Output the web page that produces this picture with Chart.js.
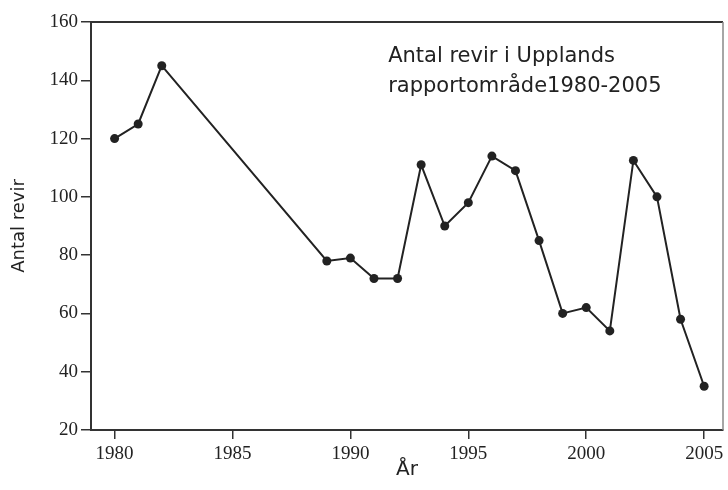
<!DOCTYPE html>
<html>
<head>
<meta charset="utf-8">
<script src="https://cdn.jsdelivr.net/npm/chart.js@4"></script>
<style>
  html, body { margin: 0; padding: 0; background: #fff; }
  #wrap { width: 728px; height: 490px; }
</style>
</head>
<body>
<div id="wrap"><canvas id="revirChart" width="728" height="490"></canvas></div>
<script>
const years = [1980, 1981, 1982, 1989, 1990, 1991, 1992, 1993, 1994, 1995, 1996, 1997, 1998, 1999, 2000, 2001, 2002, 2003, 2004, 2005];
const revir = [120, 125, 145, 78, 79, 72, 72, 111, 90, 98, 114, 109, 85, 60, 62, 54, 112.5, 100, 58, 35];
const noteLines = ["Antal revir i Upplands", "rapportområde1980-2005"];

const ink = "#222";
const serif = "'Liberation Serif', 'DejaVu Serif', serif";
const sans = "'DejaVu Sans', sans-serif";

// ram runt ritytan (topp + höger sida)
const frame = {
  id: "frame",
  afterDraw(chart) {
    const { ctx, chartArea: a } = chart;
    ctx.save();
    ctx.lineWidth = 2;
    ctx.strokeStyle = "#333";
    ctx.beginPath();
    ctx.moveTo(a.left, a.top);
    ctx.lineTo(a.right, a.top);
    ctx.stroke();
    ctx.strokeStyle = "#888";
    ctx.lineWidth = 1.5;
    ctx.beginPath();
    ctx.moveTo(a.right, a.top);
    ctx.lineTo(a.right, a.bottom);
    ctx.stroke();
    ctx.restore();
  }
};

// textruta i diagrammet
const note = {
  id: "note",
  afterDraw(chart) {
    const { ctx, scales } = chart;
    const x = scales.x.getPixelForValue(1991.6);
    const y = scales.y.getPixelForValue(146.3);
    ctx.save();
    ctx.fillStyle = ink;
    ctx.font = "21px " + sans;
    ctx.textBaseline = "alphabetic";
    noteLines.forEach((t, i) => ctx.fillText(t, x, y + i * 30));
    ctx.restore();
  }
};

new Chart(document.getElementById("revirChart"), {
  type: "line",
  data: {
    datasets: [{
      data: years.map((yr, i) => ({ x: yr, y: revir[i] })),
      borderColor: ink,
      backgroundColor: ink,
      borderWidth: 2,
      pointRadius: 4.5,
      pointBackgroundColor: ink,
      pointBorderWidth: 0,
      tension: 0
    }]
  },
  options: {
    responsive: false,
    animation: false,
    layout: { padding: { top: 22, right: 5, left: 0, bottom: 0 } },
    plugins: { legend: { display: false }, tooltip: { enabled: false } },
    scales: {
      x: {
        type: "linear",
        min: 1979,
        max: 2005.8,
        afterFit: s => { s.height = 60; },
        border: { display: true, color: "#333", width: 2 },
        grid: { drawOnChartArea: false, color: "#333", tickLength: 9, lineWidth: 1.5 },
        ticks: {
          stepSize: 5,
          includeBounds: false,
          color: ink,
          padding: 4,
          font: { family: serif, size: 19 },
          callback: v => String(v)
        },
        title: {
          display: true,
          text: "År",
          color: ink,
          font: { family: sans, size: 20 },
          padding: { top: 0, bottom: 8 }
        }
      },
      y: {
        min: 20,
        max: 160,
        afterFit: s => { s.width = 91; },
        border: { display: true, color: "#333", width: 2 },
        grid: { drawOnChartArea: false, color: "#333", tickLength: 10, lineWidth: 1.5 },
        ticks: {
          stepSize: 20,
          color: ink,
          padding: 3,
          font: { family: serif, size: 19 }
        },
        title: {
          display: true,
          text: "Antal revir",
          color: ink,
          font: { family: sans, size: 18 },
          padding: { top: 9, bottom: 0 }
        }
      }
    }
  },
  plugins: [frame, note]
});
</script>
</body>
</html>
